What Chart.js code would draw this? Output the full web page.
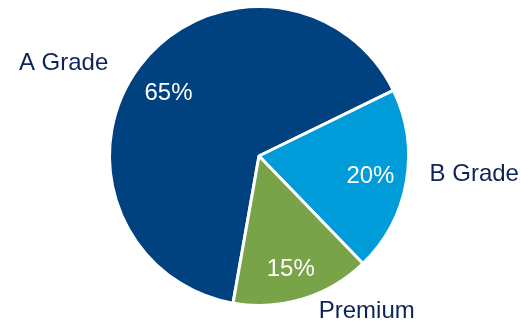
<!DOCTYPE html>
<html>
<head>
<meta charset="utf-8">
<script src="https://cdn.jsdelivr.net/npm/chart.js@4/dist/chart.umd.min.js"></script>
<style>
  html, body { margin: 0; padding: 0; background: #ffffff; }
  #wrap { width: 521px; height: 321px; }
</style>
</head>
<body>
<div id="wrap"><canvas id="c" width="521" height="321"></canvas></div>
<script>
const categories = ['A Grade', 'B Grade', 'Premium'];
const shares = [65, 20, 15];
const sliceColors = ['#00417F', '#009BD9', '#78A349'];

// Offsets of the category names from each slice's outer edge midpoint
const nameOffsets = [[-76, -3], [68, -8], [64, 12]];
// Fine offsets of the percentage text inside each slice
const pctOffsets = [[-1, 5], [1, 1], [-1, 6]];

const sliceLabels = {
  id: 'sliceLabels',
  afterDatasetsDraw(chart) {
    const ctx = chart.ctx;
    const meta = chart.getDatasetMeta(0);
    ctx.save();
    ctx.font = '24px "Liberation Sans", Arial, sans-serif';
    ctx.textAlign = 'center';
    ctx.textBaseline = 'middle';
    meta.data.forEach((arc, i) => {
      const p = arc.getProps(['x', 'y', 'startAngle', 'endAngle', 'outerRadius'], true);
      const mid = (p.startAngle + p.endAngle) / 2;
      const cos = Math.cos(mid), sin = Math.sin(mid);
      // percentage inside the slice
      const r = p.outerRadius * 0.75;
      ctx.fillStyle = '#ffffff';
      ctx.fillText(shares[i] + '%', p.x + cos * r + pctOffsets[i][0], p.y + sin * r + pctOffsets[i][1]);
      // category name outside the slice
      const ex = p.x + cos * p.outerRadius;
      const ey = p.y + sin * p.outerRadius;
      ctx.fillStyle = '#0C2457';
      ctx.fillText(categories[i], ex + nameOffsets[i][0], ey + nameOffsets[i][1]);
    });
    ctx.restore();
  }
};

new Chart(document.getElementById('c'), {
  type: 'pie',
  data: {
    labels: categories,
    datasets: [{
      data: shares,
      backgroundColor: sliceColors,
      borderColor: '#ffffff',
      borderWidth: 3
    }]
  },
  options: {
    responsive: false,
    animation: false,
    rotation: 190,
    layout: { padding: { left: 108, right: 111, top: 5, bottom: 14 } },
    plugins: {
      legend: { display: false },
      tooltip: { enabled: false }
    }
  },
  plugins: [sliceLabels]
});
</script>
</body>
</html>
